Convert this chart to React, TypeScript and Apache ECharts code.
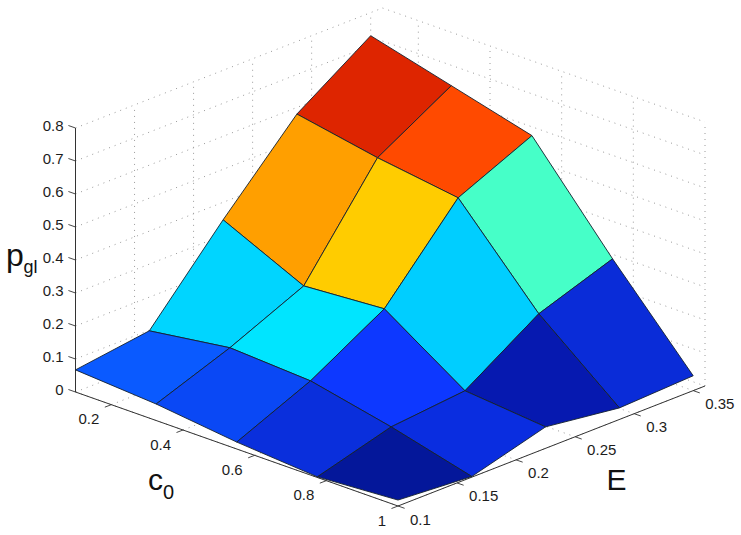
import React, { useEffect, useRef } from "react";
import * as echarts from "echarts";

const c0Values = [0.1, 0.325, 0.55, 0.775, 1];
const eValues = [0.1, 0.1625, 0.225, 0.2875, 0.35];
// pgl: one row per E value, one column per c0 value
const pRow0 = [0.067, 0.05, 0.021, 0.002, 0.018];
const pRow1 = [0.098, 0.133, 0.119, 0.066, 0.002];
const pRow2 = [0.347, 0.233, 0.25, 0.088, 0.065];
const pRow3 = [0.58, 0.534, 0.499, 0.234, 0.035];
const pRow4 = [0.73, 0.665, 0.6, 0.313, 0.045];
const pValues = [pRow0, pRow1, pRow2, pRow3, pRow4];
const cellColors = [
  ["#0a5aff", "#0a48f5", "#0a2fdc", "#04179a"],
  ["#00d5ff", "#00e5ff", "#0d38ff", "#0a2de0"],
  ["#ff9f00", "#ffcc00", "#00ceff", "#0619b0"],
  ["#de2500", "#ff4a00", "#46ffc8", "#0a2cd8"],
];
const pTicks = [0, 0.1, 0.2, 0.3, 0.4, 0.5, 0.6, 0.7, 0.8];
const c0Ticks = [0.2, 0.4, 0.6, 0.8, 1];
const eTicks = [0.1, 0.15, 0.2, 0.25, 0.3, 0.35];
const C_MIN = 0.1, C_MAX = 1, E_MIN = 0.1, E_MAX = 0.36, P_MAX = 0.8;

const FONT = "'Liberation Sans', Arial, sans-serif";

// orthographic view of the (c0, E, p) box onto the page plane
function project(c: number, e: number, p: number): number[] {
  const u = (c - C_MIN) / (C_MAX - C_MIN);
  const v = (e - E_MIN) / (E_MAX - E_MIN);
  return [75.5 + u * 322.5 + v * 307, 392 + u * 114 - v * 120 - p * 330];
}

type Seg = [number, number, number, number, number, number];
const gridSegs: Seg[] = [];
for (const p of pTicks) {
  gridSegs.push([C_MIN, E_MIN, p, C_MIN, E_MAX, p]);
  gridSegs.push([C_MIN, E_MAX, p, C_MAX, E_MAX, p]);
}
for (const e of eTicks) {
  gridSegs.push([C_MIN, e, 0, C_MAX, e, 0]);
  if (e > E_MIN) gridSegs.push([C_MIN, e, 0, C_MIN, e, P_MAX]);
}
for (const c of c0Ticks) {
  gridSegs.push([c, E_MIN, 0, c, E_MAX, 0]);
  gridSegs.push([c, E_MAX, 0, c, E_MAX, P_MAX]);
}

const axisSegs: Seg[] = [
  [C_MIN, E_MIN, 0, C_MIN, E_MIN, P_MAX],
  [C_MIN, E_MIN, 0, C_MAX, E_MIN, 0],
  [C_MAX, E_MIN, 0, C_MAX, E_MAX, 0],
];

const cells: number[][] = [];
for (let j = eValues.length - 2; j >= 0; j--) {
  for (let i = 0; i < c0Values.length - 1; i++) cells.push([i, j]);
}

export default function App() {
  const ref = useRef<HTMLDivElement>(null);
  useEffect(() => {
    document.body.style.margin = "0";
    const chart = echarts.init(ref.current!, null, { renderer: "svg" });
    const lineItem = (api: any, s: number[], style: any) => {
      const a = api.coord(project(s[0], s[1], s[2]));
      const b = api.coord(project(s[3], s[4], s[5]));
      return { type: "line", shape: { x1: a[0], y1: a[1], x2: b[0], y2: b[1] }, style };
    };
    const text = (x: number, y: number, t: string, size: number, align: string) => ({
      type: "text",
      x,
      y,
      style: { text: t, font: `${size}px ${FONT}`, fill: "#1c1c1c", align, verticalAlign: "middle" },
    });
    const tickStyle = { stroke: "#333", lineWidth: 0.9 };

    chart.setOption({
      animation: false,
      backgroundColor: "#fff",
      grid: { left: 0, top: 0, width: 741, height: 535 },
      xAxis: { type: "value", min: 0, max: 741, show: false },
      yAxis: { type: "value", min: 0, max: 535, inverse: true, show: false },
      tooltip: { show: false },
      series: [
        {
          type: "custom",
          silent: true,
          clip: false,
          data: gridSegs,
          renderItem: (_p: any, api: any) =>
            lineItem(api, gridSegs[_p.dataIndex], { stroke: "#9a9a9a", lineWidth: 1, lineDash: [1, 5] }),
          z: 1,
        },
        {
          type: "custom",
          silent: true,
          clip: false,
          data: axisSegs,
          renderItem: (_p: any, api: any) =>
            lineItem(api, axisSegs[_p.dataIndex], { stroke: "#333", lineWidth: 1 }),
          z: 2,
        },
        {
          type: "custom",
          silent: true,
          clip: false,
          data: pTicks,
          renderItem: (_p: any, api: any) => {
            const v = pTicks[_p.dataIndex];
            const a = api.coord(project(C_MIN, E_MIN, v));
            return {
              type: "group",
              children: [
                { type: "line", shape: { x1: a[0], y1: a[1], x2: a[0] - 7.1, y2: a[1] - 2.5 }, style: tickStyle },
                text(a[0] - 12, a[1] - 3, String(v), 15, "right"),
              ],
            };
          },
          z: 3,
        },
        {
          type: "custom",
          silent: true,
          clip: false,
          data: c0Ticks,
          renderItem: (_p: any, api: any) => {
            const v = c0Ticks[_p.dataIndex];
            const a = api.coord(project(v, E_MIN, 0));
            return {
              type: "group",
              children: [
                { type: "line", shape: { x1: a[0], y1: a[1], x2: a[0] - 6.5, y2: a[1] + 2.5 }, style: tickStyle },
                text(a[0] - 12, a[1] + 14, String(v), 15, "right"),
              ],
            };
          },
          z: 3,
        },
        {
          type: "custom",
          silent: true,
          clip: false,
          data: eTicks,
          renderItem: (_p: any, api: any) => {
            const v = eTicks[_p.dataIndex];
            const a = api.coord(project(C_MAX, v, 0));
            return {
              type: "group",
              children: [
                { type: "line", shape: { x1: a[0], y1: a[1], x2: a[0] + 6.6, y2: a[1] + 2.3 }, style: tickStyle },
                text(a[0] + 12, a[1] + 13, String(v), 15, "left"),
              ],
            };
          },
          z: 3,
        },
        {
          type: "custom",
          silent: true,
          clip: false,
          data: cells,
          renderItem: (_p: any, api: any) => {
            const [i, j] = cells[_p.dataIndex];
            const corners = [
              [i, j],
              [i + 1, j],
              [i + 1, j + 1],
              [i, j + 1],
            ].map(([a, b]) => api.coord(project(c0Values[a], eValues[b], pValues[b][a])));
            return {
              type: "polygon",
              shape: { points: corners },
              style: { fill: cellColors[j][i], stroke: "#14202e", lineWidth: 0.9, lineJoin: "round" },
            };
          },
          z: 4,
        },
      ],
      graphic: [
        { type: "text", x: 6, y: 254.5, style: { text: "p", font: `32px ${FONT}`, fill: "#111", verticalAlign: "middle" } },
        { type: "text", x: 23.5, y: 267, style: { text: "gl", font: `18px ${FONT}`, fill: "#111", verticalAlign: "middle" } },
        { type: "text", x: 148, y: 479, style: { text: "c", font: `30px ${FONT}`, fill: "#111", verticalAlign: "middle" } },
        { type: "text", x: 163, y: 491.5, style: { text: "0", font: `20px ${FONT}`, fill: "#111", verticalAlign: "middle" } },
        { type: "text", x: 606.5, y: 479, style: { text: "E", font: `30px ${FONT}`, fill: "#111", verticalAlign: "middle" } },
      ],
    });
    return () => chart.dispose();
  }, []);
  return <div ref={ref} style={{ width: 741, height: 535 }} />;
}
